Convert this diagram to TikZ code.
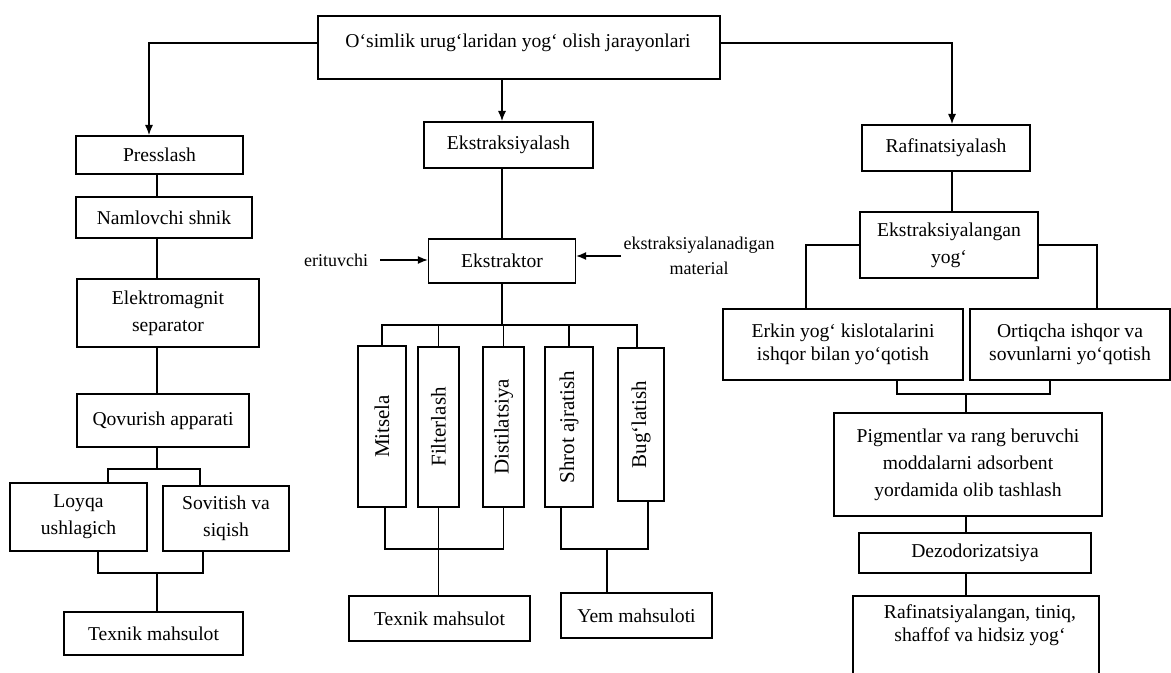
\documentclass[tikz,border=0pt]{standalone}
\usepackage{fontspec}
\setmainfont{Liberation Serif}
\usepackage{graphicx}
\usetikzlibrary{arrows.meta}
\newcommand{\boxfont}{\fontsize{9.8}{13.5}\selectfont}
\newcommand{\tightfont}{\fontsize{9.8}{11.5}\selectfont}
\newcommand{\sidefont}{\fontsize{9}{12.5}\selectfont}
\newcommand{\vertfont}{\fontsize{10.5}{12}\selectfont}
\tikzset{
    proc-box/.style = {draw, line width=1pt, rectangle, inner sep=0pt, align=center, font=\boxfont},
    proc-link/.style = {line width=0.6pt},
    proc-arrow/.style = {proc-link, -{Latex[length=5pt,width=4pt]}},
    side-text/.style = {font=\sidefont, align=center, inner sep=1pt},
}

\begin{document}
\begin{tikzpicture}[x=0.5pt, y=-0.5pt]
\useasboundingbox (0,0) rectangle (1171,673);
\clip (0,0) rectangle (1171,673);

% head
\node[proc-box, minimum width=201pt, minimum height=31.5pt] (top) at (519,47.5) {};
\node[font=\boxfont] (top-text) at (518,43) {O‘simlik urug‘laridan yog‘ olish jarayonlari};

% left column: presslash
\node[proc-box, minimum width=83.5pt, minimum height=19pt] (press) at (159.5,155) {Presslash};
\node[proc-box, minimum width=88pt, minimum height=20.5pt] (namlov) at (164,217.5) {Namlovchi shnik};
\node[proc-box, minimum width=91pt, minimum height=34pt] (elmag) at (168,313) {Elektromagnit\\separator};
\node[proc-box, minimum width=86pt, minimum height=26.5pt] (qovur) at (163,420.5) {Qovurish apparati};
\node[proc-box, minimum width=68.5pt, minimum height=34pt] (loyqa) at (78.5,517) {Loyqa\\ushlagich};
\node[proc-box, minimum width=63pt, minimum height=32.5pt] (sovit) at (226,518.5) {Sovitish va\\siqish};
\node[proc-box, minimum width=89.5pt, minimum height=21.5pt] (texL) at (153.5,633.5) {Texnik mahsulot};
\coordinate (lcol) at (157,0);
\coordinate (lsplit) at (157,469);
\coordinate (lmerge) at (157,573);

% middle column: ekstraksiyalash
\node[proc-box, minimum width=84.5pt, minimum height=23pt] (ekstr) at (508.5,145) {Ekstraksiyalash};
\node[proc-box, line width=0.7pt, minimum width=73.5pt, minimum height=22pt] (ekstor) at (502,261) {Ekstraktor};
\node[side-text] (eri) at (336,260) {erituvchi};
\node[side-text] (mat) at (699,256) {ekstraksiyalanadigan\\material};
\node[proc-box, minimum width=24pt, minimum height=80.5pt, font=\vertfont] (mits) at (382,426.5) {\rotatebox{90}{Mitsela}};
\node[proc-box, minimum width=20.5pt, minimum height=80pt, font=\vertfont] (filt) at (438.5,427) {\rotatebox{90}{Filterlash}};
\node[proc-box, minimum width=20.5pt, minimum height=80pt, font=\vertfont] (dist) at (503.5,427) {\rotatebox{90}{Distilatsiya}};
\node[proc-box, minimum width=24pt, minimum height=80pt, font=\vertfont] (shrot) at (569,427) {\rotatebox{90}{Shrot ajratish}};
\node[proc-box, minimum width=23pt, minimum height=76.5pt, font=\vertfont] (bug) at (641,424.5) {\rotatebox{90}{Bug‘latish}};
\node[proc-box, minimum width=90.5pt, minimum height=22.5pt] (texM) at (439.5,618.5) {Texnik mahsulot};
\node[proc-box, minimum width=75.5pt, minimum height=22.5pt] (yem) at (636.5,615.5) {Yem mahsuloti};
\coordinate (csplit) at (502,325);
\coordinate (tmerge) at (439,549);
\coordinate (ymerge) at (607,549);

% right column: rafinatsiyalash
\node[proc-box, minimum width=84pt, minimum height=23pt] (rafin) at (946,148) {Rafinatsiyalash};
\node[proc-box, minimum width=89pt, minimum height=33pt] (ekyog) at (949,245) {Ekstraksiyalangan\\yog‘};
\node[proc-box, minimum width=120pt, minimum height=35.5pt, font=\tightfont] (erkin) at (843,344.5) {Erkin yog‘ kislotalarini\\ishqor bilan yo‘qotish};
\node[proc-box, minimum width=100pt, minimum height=35.5pt, font=\tightfont] (ortiq) at (1070,344.5) {Ortiqcha ishqor va\\sovunlarni yo‘qotish};
\node[proc-box, minimum width=134pt, minimum height=51.5pt] (pigm) at (968,464.5) {Pigmentlar va rang beruvchi\\moddalarni adsorbent\\yordamida olib tashlash};
\node[proc-box, minimum width=116pt, minimum height=20pt] (dezod) at (975,553) {Dezodorizatsiya};
\node[proc-box, minimum width=123pt, minimum height=54pt] (rafy) at (976,650) {};
\node[font=\tightfont, align=center] (rafy-text) at (980,625) {Rafinatsiyalangan, tiniq,\\shaffof va hidsiz yog‘};
\coordinate (rmerge) at (966,394);

% arrows from the head
\draw[proc-arrow] (top-text -| top.west) -| ([xshift=-5.25pt]press.north);
\draw[proc-arrow] (top.south -| ekstor.north) -- (ekstr.north -| ekstor.north);
\draw[proc-arrow] (top-text -| top.east) -| ([xshift=3pt]rafin.north);

% left links
\draw[proc-link] (press.south -| lcol) -- (namlov.north -| lcol);
\draw[proc-link] (namlov.south -| lcol) -- (elmag.north -| lcol);
\draw[proc-link] (elmag.south -| lcol) -- (qovur.north -| lcol);
\draw[proc-link] (qovur.south -| lcol) -- (lsplit);
\draw[proc-link] ([xshift=14.75pt]loyqa.north) |- (lsplit) -| ([xshift=-13pt]sovit.north);
\draw[proc-link] ([xshift=9.75pt]loyqa.south) |- (lmerge) -| ([xshift=-11.5pt]sovit.south);
\draw[proc-link] (lmerge) -- (texL.north -| lmerge);

% middle links
\draw[proc-link, line width=1pt] (ekstr.south -| ekstor.north) -- (ekstor.north);
\draw[proc-arrow] ([xshift=5pt]eri.east) -- (ekstor.west |- eri.east);
\draw[proc-arrow] (mat.west) -- (ekstor.east |- mat.west);
\draw[proc-link] (ekstor.south) -- (csplit);
\draw[proc-link] (mits.north) |- (csplit) -| ([xshift=-2pt]bug.north);
\foreach \n in {filt,dist,shrot}
    \draw[proc-link] (\n.north) -- (\n.north |- csplit);
\draw[proc-link] ([xshift=1.5pt]mits.south) |- (tmerge) -| (dist.south);
\draw[proc-link] (filt.south) -- (texM.north -| filt.south);
\draw[proc-link] ([xshift=-4pt]shrot.south) |- (ymerge) -| ([xshift=3.5pt]bug.south);
\draw[proc-link] (ymerge) -- (yem.north -| ymerge);

% right links
\draw[proc-link] ([xshift=3pt]rafin.south) -- ([xshift=3pt]rafin.south |- ekyog.north);
\draw[proc-link] (ekyog.west) -| ([xshift=-18.5pt]erkin.north);
\draw[proc-link] (ekyog.east) -| ([xshift=13.5pt]ortiq.north);
\draw[proc-link] ([xshift=27pt]erkin.south) |- (rmerge) -| ([xshift=-10pt]ortiq.south);
\draw[proc-link] (rmerge) -- (pigm.north -| rmerge);
\draw[proc-link] (pigm.south -| rmerge) -- (dezod.north -| rmerge);
\draw[proc-link] (dezod.south -| rmerge) -- (rafy.north -| rmerge);
\end{tikzpicture}
\end{document}
